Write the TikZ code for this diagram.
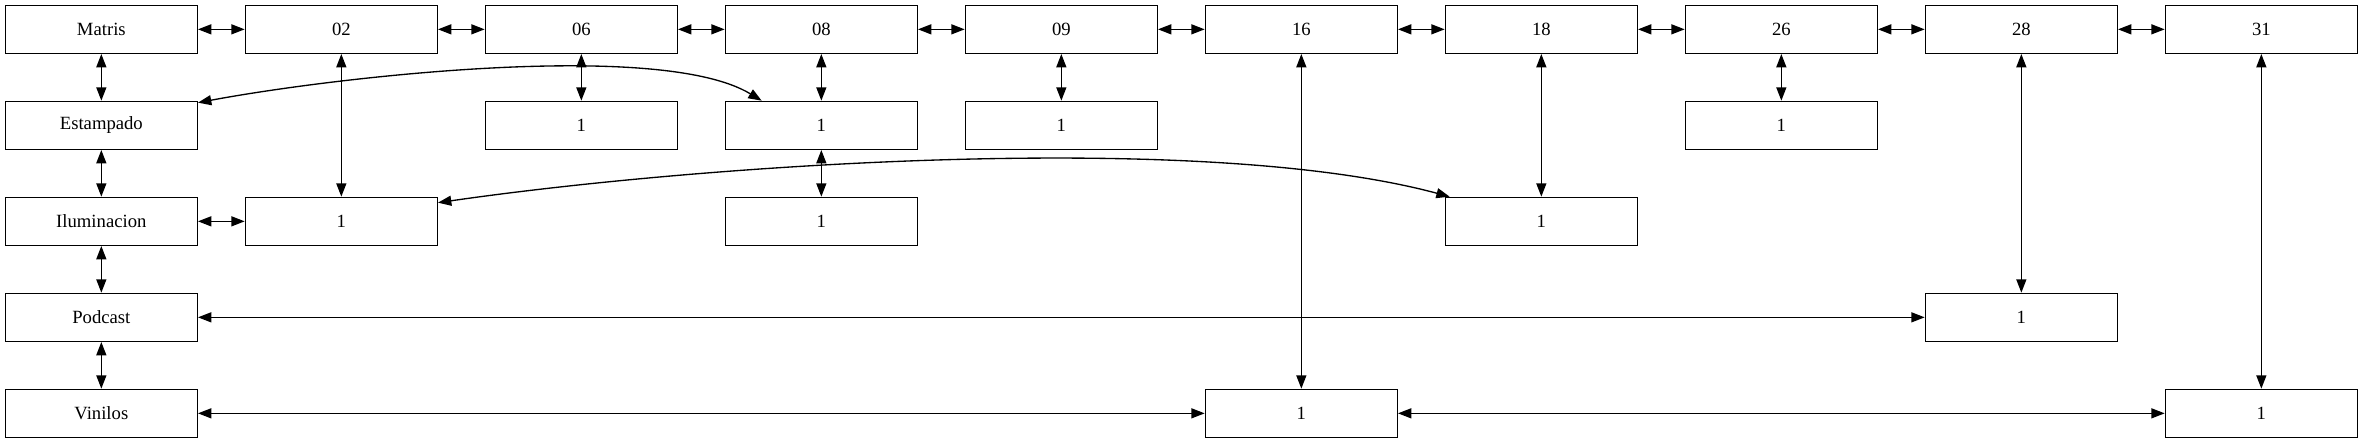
\documentclass[tikz,border=0pt]{standalone}
\usepackage{fontspec}
\setmainfont{Liberation Serif}
\usetikzlibrary{arrows.meta}

\begin{document}
\begin{tikzpicture}[x=180pt,y=-72pt,line width=1pt,
  box/.style={draw,fill=white,minimum width=144pt,minimum height=36pt,inner sep=0pt,
    font=\fontsize{14pt}{16pt}\selectfont},
  >={Triangle[length=10pt,width=7.5pt]}]
\useasboundingbox (-76pt,22pt) rectangle (1696.25pt,-310.25pt);

% top row
\node[box] (mat) at (0,0) {Matris};
\node[box] (d02) at (1,0) {02};
\node[box] (d06) at (2,0) {06};
\node[box] (d08) at (3,0) {08};
\node[box] (d09) at (4,0) {09};
\node[box] (d16) at (5,0) {16};
\node[box] (d18) at (6,0) {18};
\node[box] (d26) at (7,0) {26};
\node[box] (d28) at (8,0) {28};
\node[box] (d31) at (9,0) {31};

% left column
\node[box] (est) at (0,1) {Estampado};
\node[box] (ilu) at (0,2) {Iluminacion};
\node[box] (pod) at (0,3) {Podcast};
\node[box] (vin) at (0,4) {Vinilos};

% the ones
\node[box] (u06) at (2,1) {1};
\node[box] (u08) at (3,1) {1};
\node[box] (u09) at (4,1) {1};
\node[box] (u26) at (7,1) {1};
\node[box] (u02) at (1,2) {1};
\node[box] (v08) at (3,2) {1};
\node[box] (u18) at (6,2) {1};
\node[box] (u28) at (8,3) {1};
\node[box] (u16) at (5,4) {1};
\node[box] (u31) at (9,4) {1};

\draw[<->] (mat) -- (d02);
\draw[<->] (d02) -- (d06);
\draw[<->] (d06) -- (d08);
\draw[<->] (d08) -- (d09);
\draw[<->] (d09) -- (d16);
\draw[<->] (d16) -- (d18);
\draw[<->] (d18) -- (d26);
\draw[<->] (d26) -- (d28);
\draw[<->] (d28) -- (d31);

\draw[<->] (mat) -- (est);
\draw[<->] (est) -- (ilu);
\draw[<->] (ilu) -- (pod);
\draw[<->] (pod) -- (vin);

\draw[<->] (d02) -- (u02);
\draw[<->] (ilu) -- (u02);
\draw[<->] (d06) -- (u06);
\draw[<->] (d08) -- (u08);
\draw[<->] (u08) -- (v08);
\draw[<->] (d09) -- (u09);
\draw[<->] (d16) -- (u16);
\draw[<->] (d18) -- (u18);
\draw[<->] (d26) -- (u26);
\draw[<->] (d28) -- (u28);
\draw[<->] (pod) -- (u28);
\draw[<->] (d31) -- (u31);
\draw[<->] (vin) -- (u16);
\draw[<->] (u16) -- (u31);

% the two bent ones
\draw[<->] ([yshift=-1.5pt]est.north east) .. controls +(99.75pt,18.75pt) and +(-76.5pt,46.3pt) .. ([xshift=27.75pt]u08.north west);
\draw[<->] ([yshift=-4.5pt]u02.north east) .. controls +(197.25pt,28.5pt) and +(-187.5pt,50.25pt) .. ([xshift=3.75pt]u18.north west);

\end{tikzpicture}
\end{document}
